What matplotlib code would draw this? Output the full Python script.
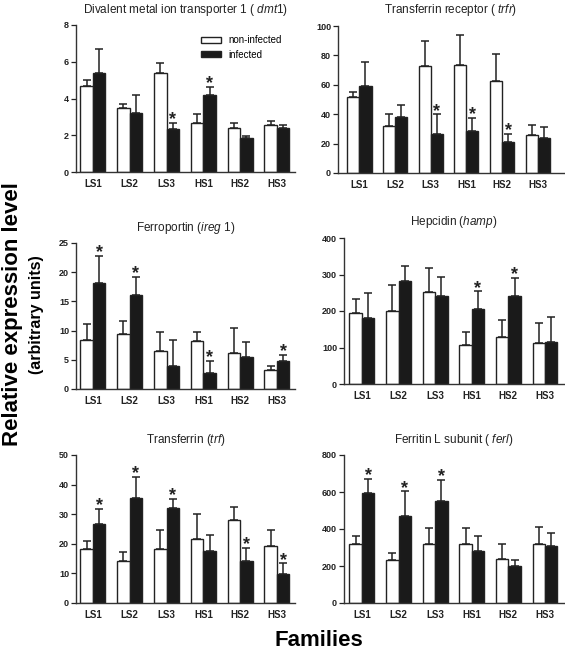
import numpy as np
import matplotlib
matplotlib.use("Agg")
import matplotlib.pyplot as plt
from matplotlib.patches import Patch

plt.rcParams['font.family'] = ['Liberation Sans', 'DejaVu Sans']
plt.rcParams['mathtext.fontset'] = 'custom'
plt.rcParams['mathtext.rm'] = 'Liberation Sans'
plt.rcParams['mathtext.it'] = 'Liberation Sans:italic'

families = ['LS1', 'LS2', 'LS3', 'HS1', 'HS2', 'HS3']

# Divalent metal ion transporter 1 (dmt1)
dmt1_non = [4.70, 3.47, 5.37, 2.69, 2.40, 2.54]
dmt1_non_err = [0.30, 0.25, 0.55, 0.45, 0.29, 0.24]
dmt1_inf = [5.41, 3.19, 2.34, 4.19, 1.83, 2.38]
dmt1_inf_err = [1.30, 1.00, 0.35, 0.46, 0.13, 0.16]
dmt1_sig = [2, 3]

# Transferrin receptor (trfr)
trfr_non = [51.6, 31.9, 72.9, 73.3, 62.9, 26.0]
trfr_non_err = [3.8, 8.1, 17.1, 20.8, 17.9, 6.6]
trfr_inf = [59.5, 37.8, 26.7, 28.7, 21.0, 23.8]
trfr_inf_err = [15.8, 8.4, 13.3, 8.9, 5.7, 7.2]
trfr_sig = [2, 3, 4]

# Ferroportin (ireg 1)
ireg_non = [8.4, 9.5, 6.5, 8.2, 6.1, 3.2]
ireg_non_err = [2.7, 2.2, 3.3, 1.6, 4.4, 0.75]
ireg_inf = [18.2, 16.1, 4.0, 2.75, 5.55, 4.8]
ireg_inf_err = [4.6, 3.1, 4.35, 2.1, 2.5, 1.1]
ireg_sig = [0, 1, 3, 5]

# Hepcidin (hamp)
hamp_non = [195, 200, 251, 107, 128, 113]
hamp_non_err = [38, 70, 67, 36, 46, 53]
hamp_inf = [182, 282, 241, 206, 240, 114]
hamp_inf_err = [68, 41, 51, 48, 51, 69]
hamp_sig = [3, 4]

# Transferrin (trf)
trf_non = [18.4, 14.2, 18.2, 21.6, 28.1, 19.2]
trf_non_err = [2.6, 3.0, 6.4, 8.3, 4.3, 5.4]
trf_inf = [26.6, 35.6, 32.1, 17.6, 14.1, 9.7]
trf_inf_err = [5.2, 7.1, 3.1, 5.3, 4.6, 3.8]
trf_sig = [0, 1, 2, 4, 5]

# Ferritin L subunit (ferl)
ferl_non = [321, 234, 317, 321, 240, 317]
ferl_non_err = [41, 38, 88, 84, 79, 96]
ferl_inf = [595, 470, 551, 279, 202, 310]
ferl_inf_err = [77, 135, 116, 83, 32, 70]
ferl_sig = [0, 1, 2]

W, H = 565, 652


def panel_rect(left, right, top, bottom):
    return [left / W, (H - bottom) / H, (right - left) / W, (bottom - top) / H]


def draw_panel(ax, non, non_err, inf, inf_err, sig, yticks, title, xlim):
    x = np.arange(len(families))
    w = 0.34
    ax.bar(x - w / 2, non, w, color='white', edgecolor='#222222', linewidth=1.0)
    ax.bar(x + w / 2, inf, w, color='#1a1a1a', edgecolor='#222222', linewidth=1.0)
    ax.errorbar(x - w / 2, non, yerr=[np.zeros(len(non)), non_err], fmt='none',
                ecolor='#222222', elinewidth=1.1, capsize=2.8, capthick=1.1)
    ax.errorbar(x + w / 2, inf, yerr=[np.zeros(len(inf)), inf_err], fmt='none',
                ecolor='#222222', elinewidth=1.1, capsize=2.8, capthick=1.1)
    for i in sig:
        ax.annotate('*', (x[i] + w / 2, inf[i] + inf_err[i]), xytext=(0, -4),
                    textcoords='offset points', ha='center', va='bottom',
                    fontsize=13, fontweight='bold', color='#222222')
    ax.set_xlim(*xlim)
    ax.set_ylim(yticks[0], yticks[-1])
    ax.set_yticks(yticks)
    ax.set_xticks(x)
    ax.set_xticklabels(families, fontsize=7, fontweight='bold')
    for lab in ax.get_yticklabels():
        lab.set_fontsize(6.5)
        lab.set_fontweight('bold')
    ax.tick_params(axis='x', length=0, pad=5, colors='#222222')
    ax.tick_params(axis='y', length=3.5, width=0.9, pad=1.5, colors='#222222')
    for s in ['top', 'right']:
        ax.spines[s].set_visible(False)
    for s in ['left', 'bottom']:
        ax.spines[s].set_color('#333333')
        ax.spines[s].set_linewidth(1.0)
    ax.set_title(title, fontsize=8.5, pad=9, color='#222222')


fig = plt.figure(figsize=(W / 100, H / 100), dpi=100)

ax1 = fig.add_axes(panel_rect(76, 295, 25, 172))
draw_panel(ax1, dmt1_non, dmt1_non_err, dmt1_inf, dmt1_inf_err, dmt1_sig,
           [0, 2, 4, 6, 8], r'Divalent metal ion transporter 1 ( $\it{dmt1}$)', (-0.46, 5.49))
handles = [Patch(facecolor='white', edgecolor='#222222', linewidth=1.0),
           Patch(facecolor='#1a1a1a', edgecolor='#222222', linewidth=1.0)]
ax1.legend(handles, ['non-infected', 'infected'], loc='upper right',
           bbox_to_anchor=(0.98, 0.99), frameon=False, fontsize=7,
           handlelength=2.0, handleheight=0.55, handletextpad=0.8, labelspacing=0.45)

ax2 = fig.add_axes(panel_rect(338, 564, 26, 173))
draw_panel(ax2, trfr_non, trfr_non_err, trfr_inf, trfr_inf_err, trfr_sig,
           [0, 20, 40, 60, 80, 100], r'Transferrin receptor ( $\it{trfr}$)', (-0.60, 5.74))

ax3 = fig.add_axes(panel_rect(76, 295, 243, 389))
draw_panel(ax3, ireg_non, ireg_non_err, ireg_inf, ireg_inf_err, ireg_sig,
           [0, 5, 10, 15, 20, 25], r'Ferroportin ($\it{ireg\ 1}$)', (-0.46, 5.49))

ax4 = fig.add_axes(panel_rect(344, 564, 238, 384))
draw_panel(ax4, hamp_non, hamp_non_err, hamp_inf, hamp_inf_err, hamp_sig,
           [0, 100, 200, 300, 400], r'Hepcidin ($\it{hamp}$)', (-0.49, 5.52))

ax5 = fig.add_axes(panel_rect(76, 295, 455, 603))
draw_panel(ax5, trf_non, trf_non_err, trf_inf, trf_inf_err, trf_sig,
           [0, 10, 20, 30, 40, 50], r'Transferrin ($\it{trf}$)', (-0.46, 5.49))

ax6 = fig.add_axes(panel_rect(344, 564, 455, 603))
draw_panel(ax6, ferl_non, ferl_non_err, ferl_inf, ferl_inf_err, ferl_sig,
           [0, 200, 400, 600, 800], r'Ferritin L subunit ( $\it{ferl}$)', (-0.49, 5.52))

fig.text(13 / W, 1 - 314 / H, 'Relative expression level', rotation=90,
         ha='center', va='center', fontsize=16, fontweight='bold')
fig.text(37 / W, 1 - 315 / H, '(arbitrary units)', rotation=90,
         ha='center', va='center', fontsize=11.5, fontweight='bold')
fig.text(319 / W, 1 - 640 / H, 'Families', ha='center', va='center',
         fontsize=16, fontweight='bold')

fig.savefig('out.png', dpi=100)
